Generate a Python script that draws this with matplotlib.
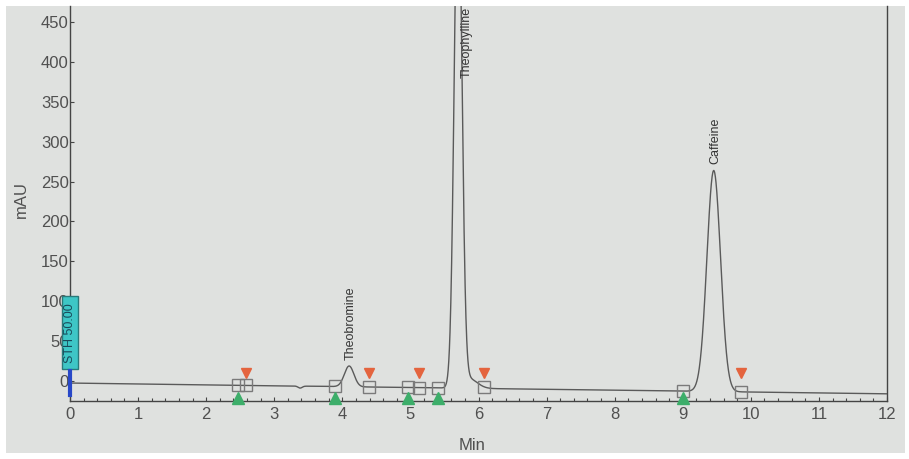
import numpy as np
import matplotlib.pyplot as plt
from matplotlib.patches import Rectangle

plt.rcParams["font.family"] = ["Liberation Sans", "DejaVu Sans"]

# peak table (retention time in min, apex above baseline in mAU, sigma in min)
peakNames = ["Theobromine", "Theophylline", "Caffeine"]
peakTimes = [4.10, 5.70, 9.455]
peakHeights = [26, 650, 277]
peakWidths = [0.07, 0.056, 0.10]

# theophylline tail and the small dip near 3.4 min
extraTimes = [5.86, 3.38]
extraHeights = [12, -2.5]
extraWidths = [0.12, 0.03]

# baseline drift (mAU) at 0 and 12 min
baseStart, baseEnd = -2.5, -16.0

# integration start / end events
startTimes = [2.47, 3.89, 4.96, 5.40, 9.00]
endTimes = [2.59, 4.39, 5.12, 6.08, 9.85]

xTicks = list(range(0, 13))
yTicks = list(range(0, 451, 50))

t = np.linspace(0, 12, 4000)
signal = baseStart + (baseEnd - baseStart) * t / 12.0
for rt, h, w in zip(peakTimes + extraTimes, peakHeights + extraHeights, peakWidths + extraWidths):
    signal = signal + h * np.exp(-0.5 * ((t - rt) / w) ** 2)

fig = plt.figure(figsize=(9.09, 4.59), dpi=100)
fig.patch.set_facecolor("white")
fig.add_artist(Rectangle((6 / 909, 6 / 459), 899 / 909, 447 / 459, transform=fig.transFigure,
                         facecolor="#dfe1df", edgecolor="none", zorder=-10))

ax = fig.add_axes([70 / 909, 1 - 401 / 459, 817 / 909, 395 / 459])
ax.set_facecolor("none")
ax.plot(t, signal, color="#5a5a5a", lw=1.0, zorder=3)

ax.set_xlim(0, 12)
ax.set_ylim(-25, 470)
ax.set_xticks(xTicks)
ax.set_yticks(yTicks)
ax.set_xticks(np.arange(0, 12.01, 0.2), minor=True)
ax.tick_params(axis="both", which="major", direction="in", length=3, width=0.8,
               labelsize=12, labelcolor="#505050", color="#444444")
ax.tick_params(axis="x", which="minor", direction="in", length=2, width=0.8, color="#444444")
ax.tick_params(axis="y", pad=1)
ax.tick_params(axis="x", pad=4)
for side in ["left", "bottom", "right"]:
    ax.spines[side].set_color("#444444")
    ax.spines[side].set_linewidth(1.0)
ax.spines["top"].set_visible(False)

ax.set_ylabel("mAU", fontsize=12, color="#505050")
ax.yaxis.set_label_coords(-0.05, 0.51)
ax.set_xlabel("Min", fontsize=12, color="#505050")
ax.xaxis.set_label_coords(0.492, -0.094)

# integration boxes on the trace
eventTimes = startTimes + endTimes
eventLevels = np.interp(eventTimes, t, signal)
ax.plot(eventTimes, eventLevels, "s", ms=8, mfc="none", mec="#7a7a7a", mew=1.0, zorder=4)
ax.plot(startTimes, [-21] * len(startTimes), "^", ms=9, color="#3dae6a", zorder=5, clip_on=False)
ax.plot(endTimes, [10] * len(endTimes), "v", ms=7, color="#e4643e", zorder=5)

# peak names
for name, rt, h in zip(peakNames, peakTimes, peakHeights):
    apex = np.interp(rt, t, signal)
    if apex > 470:
        ax.text(rt + 0.12, 0.998, name, transform=ax.get_xaxis_transform(), rotation=90,
                ha="center", va="top", fontsize=9, color="#333333")
    else:
        ax.text(rt + 0.02, apex + 8, name, rotation=90, ha="center", va="bottom",
                fontsize=9, color="#333333")

# threshold box and start marker
ax.add_patch(Rectangle((-0.118, 15), 0.236, 91.5, facecolor="#3ec6c6", edgecolor="#2a7a7a",
                       lw=1.0, zorder=6, clip_on=False))
ax.text(0, 60, "STH 50.00", rotation=90, ha="center", va="center", fontsize=9,
        color="#1a4a5a", zorder=7, clip_on=False)
ax.plot([0, 0], [12, -17.5], color="#2848c8", lw=3, zorder=6, clip_on=False)

plt.savefig("out.png", format="png", dpi=100)
